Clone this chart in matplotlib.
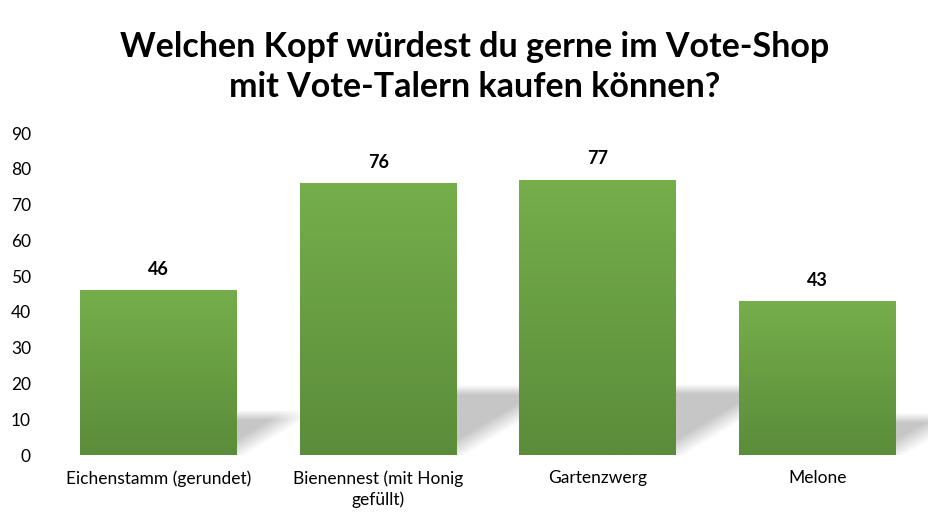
import numpy as np
import matplotlib
matplotlib.use("Agg")
import matplotlib.pyplot as plt
from matplotlib.colors import to_rgb

categories = ["Eichenstamm (gerundet)", "Bienennest (mit Honig\ngefüllt)", "Gartenzwerg", "Melone"]
values = [46, 76, 77, 43]
yticks = [0, 10, 20, 30, 40, 50, 60, 70, 80, 90]
title = "Welchen Kopf würdest du gerne im Vote-Shop\nmit Vote-Talern kaufen können?"

plt.rcParams['font.family'] = ['Lato', 'DejaVu Sans']

W, H = 950, 526
fig = plt.figure(figsize=(W / 100, H / 100), dpi=100)
ax_l, ax_r, ax_b, ax_t = 49, 927, 455, 133
ax = fig.add_axes([ax_l / W, 1 - ax_b / H, (ax_r - ax_l) / W, (ax_b - ax_t) / H])

x = np.arange(len(values))
bw = 0.715
top_c = np.array(to_rgb("#75ae4b"))
bot_c = np.array(to_rgb("#5b8c3a"))

ax.set_xlim(-0.5, len(values) - 0.5)
ax.set_ylim(0, 90)

sx = (ax_r - ax_l) / len(values)   # px per category
sy = (ax_b - ax_t) / 90.0          # px per unit

bars = ax.bar(x, values, width=bw, color=(top_c + bot_c) / 2, zorder=2)

# gradient fill clipped to each bar
grad = np.linspace(0, 1, 256)[:, None, None]
img = top_c[None, None, :] * (1 - grad) + bot_c[None, None, :] * grad
for b, xi, v in zip(bars, x, values):
    b.set_facecolor("none")
    im = ax.imshow(img, extent=[xi - bw / 2, xi + bw / 2, 0, v], aspect='auto',
                   origin='upper', zorder=2.5, interpolation='bilinear')
    im.set_clip_path(b)

# perspective shadows
k = 1.66 * sy / sx  # data-x per data-y shear
shade = 0.78
for xi, v in zip(x, values):
    R = xi + bw / 2
    hs = 0.24 * v
    x0, x1 = R, R + k * hs + 0.2
    y0, y1 = 0, hs + 3
    nx, ny = 240, 140
    gx = np.linspace(x0, x1, nx)
    gy = np.linspace(y1, y0, ny)
    X, Y = np.meshgrid(gx, gy)
    t = (hs - Y) * sy                     # px below top edge
    d = (R + k * Y - X) * sx / np.sqrt(1 + 1.66 ** 2)  # px from diagonal
    a_top = np.clip(t / 10 + 0.5, 0, 1)
    a_diag = np.clip(d / 18 + 0.25, 0, 1)
    alpha = a_top * a_diag
    rgba = np.zeros((ny, nx, 4))
    rgba[..., :3] = shade
    rgba[..., 3] = alpha
    ax.imshow(rgba, extent=[x0, x1, y0, y1], aspect='auto', origin='upper',
              zorder=1, interpolation='bilinear')

ax.set_xlim(-0.5, len(values) - 0.5)
ax.set_ylim(0, 90)

for xi, v in zip(x, values):
    ax.annotate(str(v), (xi, v), xytext=(0, 9), textcoords='offset points',
                ha='center', va='bottom', fontsize=13, fontweight='bold', color='black')

ax.set_yticks(yticks)
ax.set_yticklabels([str(t) for t in yticks])
ax.set_xticks(x)
ax.set_xticklabels(categories, linespacing=1.35)
ax.tick_params(axis='both', length=0, labelsize=12.5, colors='#000000')
ax.tick_params(axis='y', pad=13)
ax.tick_params(axis='x', pad=11)
for s in ax.spines.values():
    s.set_visible(False)

fig.text(0.5, 1 - 67 / H, title, ha='center', va='center', fontsize=24.5,
         fontweight='bold', linespacing=1.32)

fig.savefig("out.png", dpi=100)
